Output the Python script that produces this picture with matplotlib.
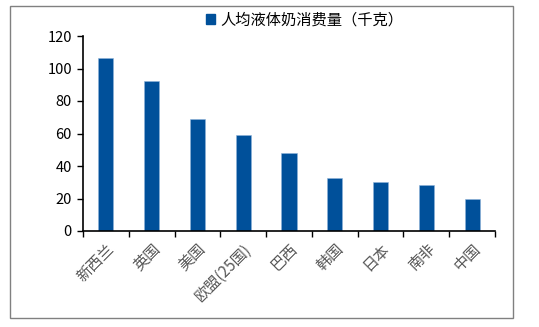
import matplotlib
matplotlib.use("Agg")
import matplotlib.pyplot as plt
from matplotlib.patches import Rectangle, Patch

plt.rcParams['font.family'] = ['Noto Sans CJK SC', 'DejaVu Sans']

categories = ['新西兰', '英国', '美国', '欧盟(25国)', '巴西', '韩国', '日本', '南非', '中国']
values = [106.5, 92.5, 68.8, 59.0, 47.8, 32.5, 30.3, 28.3, 20.0]
series_name = '人均液体奶消费量（千克）'
yticks = [0, 20, 40, 60, 80, 100, 120]

bar_color = '#00509A'

fig = plt.figure(figsize=(5.39, 3.27), dpi=100)
ax = fig.add_axes([83/539, 1-231/327, (495-83)/539, (231-36)/327])

x = list(range(len(categories)))
ax.bar(x, values, width=0.33, color=bar_color, edgecolor='#8FB3D9', linewidth=0.4)

ax.set_xlim(-0.5, len(categories) - 0.5)
ax.set_ylim(0, 120)
ax.set_yticks(yticks)
ax.tick_params(axis='y', direction='out', length=4, width=1, labelsize=10.5, colors='black', pad=4)

ax.set_xticks([i - 0.5 for i in range(len(categories) + 1)])
ax.set_xticklabels([])
ax.tick_params(axis='x', which='major', direction='out', length=4, width=1)
ax.set_xticks(x, minor=True)
ax.set_xticklabels(categories, minor=True, rotation=45, ha='right', rotation_mode='anchor',
                   fontsize=11, color='#595959')
ax.tick_params(axis='x', which='minor', length=0, pad=7)

for s in ['top', 'right']:
    ax.spines[s].set_visible(False)
for s in ['left', 'bottom']:
    ax.spines[s].set_linewidth(1.2)
    ax.spines[s].set_color('black')

leg = fig.legend(handles=[Patch(color=bar_color, label=series_name)],
                 loc='center', bbox_to_anchor=(305/539, 1-20/327), frameon=False,
                 fontsize=11, handlelength=0.55, handleheight=0.55, handletextpad=0.4)

fig.patches.append(Rectangle((10/539, 1-318/327), (513-10)/539, (318-6)/327,
                             transform=fig.transFigure, fill=False, edgecolor='#808080', linewidth=1))

fig.savefig('out.png', dpi=100)
